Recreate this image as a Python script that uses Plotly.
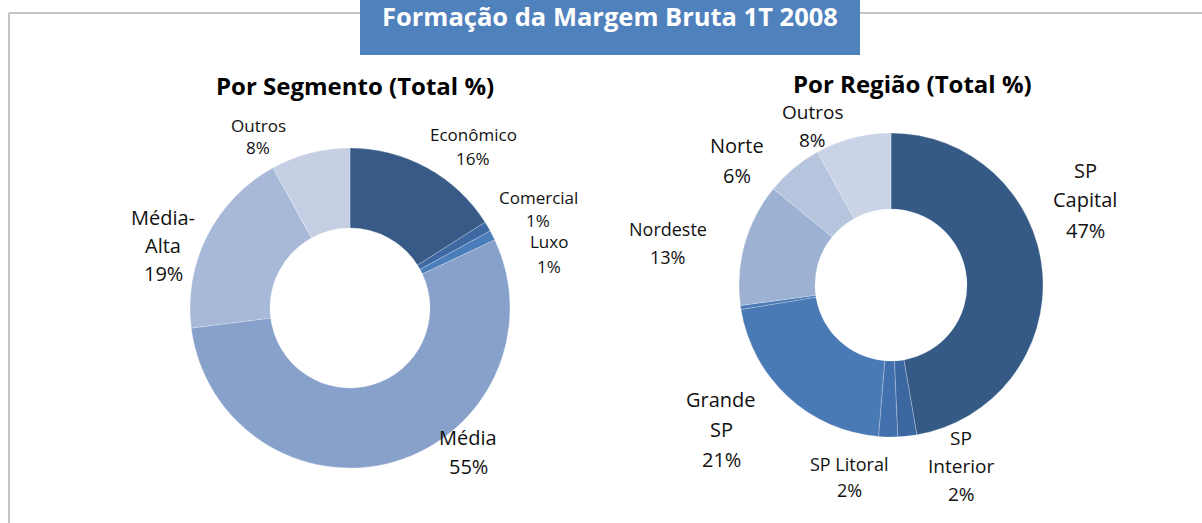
import plotly.graph_objects as go

W, H = 1202, 523

# ---- data ----
seg_labels = ["Econômico", "Comercial", "Luxo", "Média", "Média-Alta", "Outros"]
seg_values = [16, 1, 1, 55, 19, 8]
seg_colors = ["#375B86", "#3D68A1", "#4A7EBB", "#87A1CB", "#A8B8D8", "#C5CFE3"]
seg_display = [["Econômico"], ["Comercial"], ["Luxo"], ["Média"], ["Média-", "Alta"], ["Outros"]]

reg_labels = ["SP Capital", "SP Interior", "SP Litoral", "Grande SP", "Outros (SP)", "Nordeste", "Norte", "Outros"]
reg_values = [47, 2, 2, 21, 0.4, 13, 6, 8]
reg_colors = ["#365A86", "#3C67A1", "#4270AE", "#4A7AB6", "#4A7AB6", "#9DB1D2", "#B6C4DE", "#CAD4E6"]
reg_display = [["SP", "Capital"], ["SP", "Interior"], ["SP Litoral"], ["Grande", "SP"], None, ["Nordeste"], ["Norte"], ["Outros"]]

title_main = "Formação da Margem Bruta 1T 2008"
title_seg = "Por Segmento (Total %)"
title_reg = "Por Região (Total %)"

# ---- label placement (pixels: center x, first-line y, line spacing, font size) ----
seg_label_pos = [(473, 135, 24, 17), (538, 197, 23, 17), (549, 241, 25, 17),
                 (468, 437, 29, 20), (163, 217, 28, 20), (258, 126, 22, 17)]
reg_label_pos = [(1085, 170, 30, 20), (961, 438, 28, 19), (849, 464, 26, 18),
                 (721, 399, 30, 20), None, (668, 229, 28, 18), (737, 146, 29, 20), (812, 112, 28, 19)]


def px(x):
    return x / W


def py(y):
    return 1 - y / H


FONT = "Open Sans, Calibri, sans-serif"
SEP = dict(color="rgba(255,255,255,0.4)", width=0.6)

fig = go.Figure()
fig.add_trace(go.Pie(
    labels=seg_labels, values=seg_values, sort=False, direction="clockwise", rotation=0,
    hole=0.5, textinfo="none", hoverinfo="label+percent",
    marker=dict(colors=seg_colors, line=SEP),
    domain=dict(x=[px(190), px(510)], y=[py(468), py(148)]),
    showlegend=False,
))
fig.add_trace(go.Pie(
    labels=reg_labels, values=reg_values, sort=False, direction="clockwise", rotation=0,
    hole=0.5, textinfo="none", hoverinfo="label+percent",
    marker=dict(colors=reg_colors, line=SEP),
    domain=dict(x=[px(737), px(1045)], y=[py(437), py(133)]),
    showlegend=False,
))

annotations = []


def add_labels(display, values, positions):
    for disp, val, pos in zip(display, values, positions):
        if disp is None or pos is None:
            continue
        x, y0, sp, fs = pos
        lines = disp + [f"{round(val)}%"]
        for i, ln in enumerate(lines):
            annotations.append(dict(
                x=px(x), y=py(y0 + i * sp), xref="paper", yref="paper",
                text=ln, showarrow=False, xanchor="center", yanchor="middle",
                font=dict(family=FONT, size=fs, color="#111111"),
            ))


add_labels(seg_display, seg_values, seg_label_pos)
add_labels(reg_display, reg_values, reg_label_pos)

annotations.append(dict(x=px(355), y=py(86), xref="paper", yref="paper", text=f"<b>{title_seg}</b>",
                        showarrow=False, xanchor="center", yanchor="middle",
                        font=dict(family=FONT, size=24, color="#000000")))
annotations.append(dict(x=px(912), y=py(83), xref="paper", yref="paper", text=f"<b>{title_reg}</b>",
                        showarrow=False, xanchor="center", yanchor="middle",
                        font=dict(family=FONT, size=24, color="#000000")))
annotations.append(dict(x=px(610), y=py(16), xref="paper", yref="paper", text=f"<b>{title_main}</b>",
                        showarrow=False, xanchor="center", yanchor="middle",
                        font=dict(family=FONT, size=25.5, color="#FFFFFF")))

shapes = [
    dict(type="line", xref="paper", yref="paper", x0=px(9), x1=px(9), y0=py(13), y1=py(540),
         line=dict(color="#C4C4C4", width=2)),
    dict(type="line", xref="paper", yref="paper", x0=px(9), x1=px(1220), y0=py(13), y1=py(13),
         line=dict(color="#C4C4C4", width=2)),
    dict(type="rect", xref="paper", yref="paper", x0=px(360), x1=px(860), y0=py(55), y1=py(-5),
         fillcolor="#4F81BD", line=dict(width=0)),
]

fig.update_layout(
    width=W, height=H, margin=dict(l=0, r=0, t=0, b=0),
    paper_bgcolor="white", plot_bgcolor="white",
    annotations=annotations, shapes=shapes,
)

fig.write_html("out.html", config={"displayModeBar": False},
               post_script="document.body.style.margin='0';document.body.style.overflow='hidden';")
